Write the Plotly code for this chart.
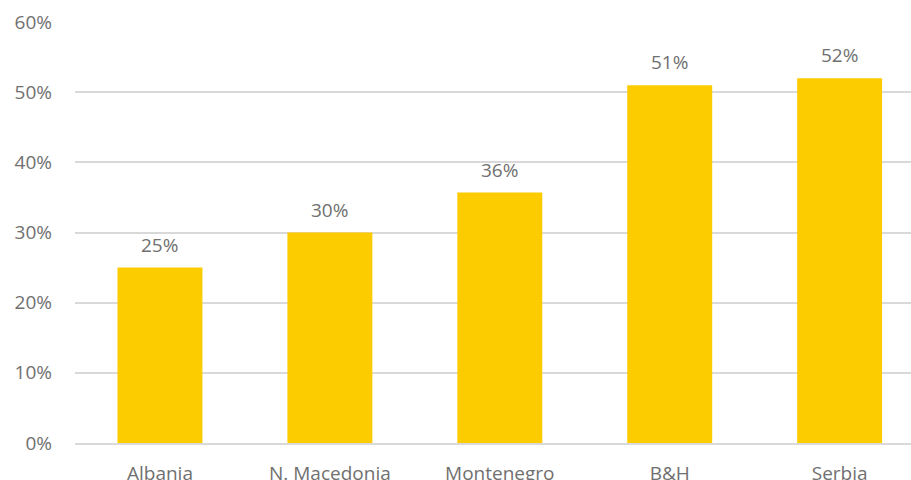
import plotly.graph_objects as go

countries = ["Albania", "N. Macedonia", "Montenegro", "B&H", "Serbia"]
shares = [25, 30, 35.7, 51, 52]
labels = ["25%", "30%", "36%", "51%", "52%"]
y_ticks = [0, 10, 20, 30, 40, 50, 60]
y_tick_text = ["0%", "10%", "20%", "30%", "40%", "50%", "60%"]

TEXT = "#707070"
FONT = "Open Sans"
SIZE = 19

fig = go.Figure(
    go.Bar(
        x=countries,
        y=shares,
        marker=dict(color="#FDCC00", line=dict(width=0)),
        width=0.5,
        hoverinfo="skip",
    )
)

for c, v, t in zip(countries, shares, labels):
    fig.add_annotation(
        x=c, y=v, text=t, showarrow=False,
        yanchor="bottom", yshift=8,
        font=dict(family=FONT, size=SIZE, color=TEXT),
    )

fig.update_layout(
    width=911, height=480,
    margin=dict(l=75, r=0, t=22, b=37),
    paper_bgcolor="white", plot_bgcolor="white",
    showlegend=False,
    bargap=0.5,
)
fig.update_xaxes(
    range=[-0.5, 4.42],
    showgrid=False, zeroline=False,
    showline=True, linecolor="#D9D9D9", linewidth=2,
    tickfont=dict(family=FONT, size=SIZE, color=TEXT),
    ticks="", ticklabelstandoff=12,
    automargin=False,
)
fig.update_yaxes(
    range=[0, 60],
    tickvals=y_ticks, ticktext=y_tick_text,
    showgrid=True, gridcolor="#D9D9D9", gridwidth=1.5,
    zeroline=False, showline=False,
    tickfont=dict(family=FONT, size=SIZE, color=TEXT),
    ticks="", ticklabelstandoff=22,
    automargin=False,
)

fig.write_html("out.html")
